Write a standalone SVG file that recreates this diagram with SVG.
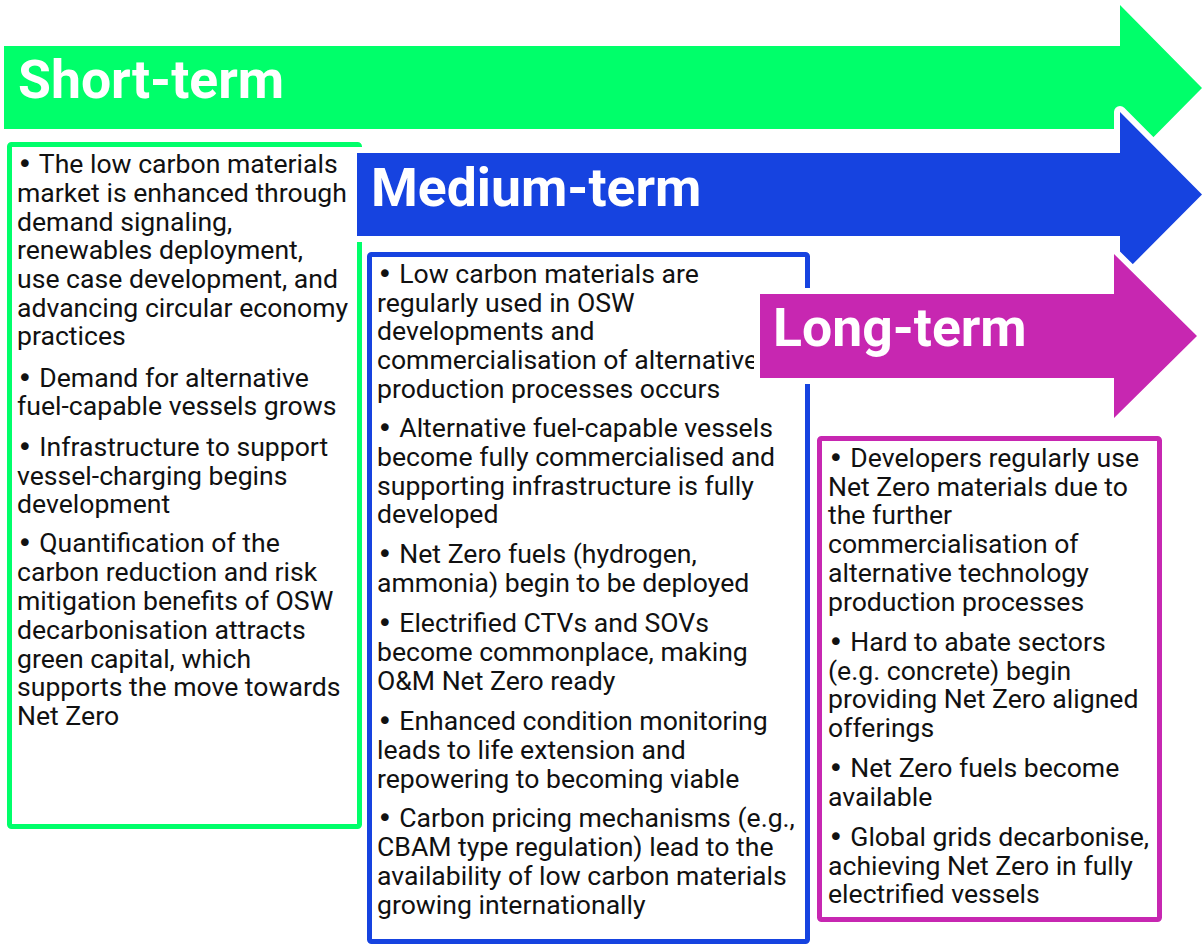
<svg xmlns="http://www.w3.org/2000/svg" width="1203" height="944" viewBox="0 0 1203 944">
  <style>
    .label { font-family: Roboto, "Liberation Sans", sans-serif; font-weight: bold; font-size: 53.5px; fill: #ffffff; }
    .body { font-family: Roboto, "Liberation Sans", sans-serif; font-size: 26.6px; fill: #111111; }
    .dot { font-family: "DejaVu Sans", sans-serif; }
    .arrow { stroke: #ffffff; stroke-width: 12; stroke-linejoin: round; paint-order: stroke; }
    .box { fill: #ffffff; stroke-width: 5; }
    .green { fill: #00ff6a; }
    .blue { fill: #1643e0; }
    .pink { fill: #c727b1; }
  </style>
  <rect width="1203" height="944" fill="#ffffff"/>

  <!-- short-term column -->
  <g id="short-term-box">
    <rect class="box" x="9.5" y="144.5" width="350" height="682" rx="2" stroke="#00ff6a"/>
    <text class="body">
      <tspan x="17" y="173"><tspan class="dot">•</tspan> The low carbon materials</tspan>
      <tspan x="17" y="202">market is enhanced through</tspan>
      <tspan x="17" y="231">demand signaling,</tspan>
      <tspan x="17" y="259">renewables deployment,</tspan>
      <tspan x="17" y="288">use case development, and</tspan>
      <tspan x="17" y="317">advancing circular economy</tspan>
      <tspan x="17" y="345">practices</tspan>
      <tspan x="17" y="387"><tspan class="dot">•</tspan> Demand for alternative</tspan>
      <tspan x="17" y="415">fuel-capable vessels grows</tspan>
      <tspan x="17" y="456"><tspan class="dot">•</tspan> Infrastructure to support</tspan>
      <tspan x="17" y="485">vessel-charging begins</tspan>
      <tspan x="17" y="513">development</tspan>
      <tspan x="17" y="552"><tspan class="dot">•</tspan> Quantification of the</tspan>
      <tspan x="17" y="581">carbon reduction and risk</tspan>
      <tspan x="17" y="610">mitigation benefits of OSW</tspan>
      <tspan x="17" y="639">decarbonisation attracts</tspan>
      <tspan x="17" y="668">green capital, which</tspan>
      <tspan x="17" y="696">supports the move towards</tspan>
      <tspan x="17" y="725">Net Zero</tspan>
    </text>
  </g>
  <g id="short-term-arrow">
    <path class="arrow green" d="M4,46 H1120 V5 L1202,88 L1120,171 V129 H4 Z"/>
    <text class="label" x="18" y="98">Short-term</text>
  </g>

  <!-- medium-term column -->
  <g id="medium-term-arrow">
    <path class="arrow blue" d="M357,153 H1120 V112 L1202,194.5 L1120,277 V236 H357 Z"/>
    <text class="label" x="371" y="206">Medium-term</text>
  </g>
  <g id="medium-term-box">
    <rect class="box" x="369.5" y="254.5" width="438" height="687" rx="2" stroke="#1643e0"/>
    <text class="body">
      <tspan x="377" y="283"><tspan class="dot">•</tspan> Low carbon materials are</tspan>
      <tspan x="377" y="312">regularly used in OSW</tspan>
      <tspan x="377" y="340">developments and</tspan>
      <tspan x="377" y="369">commercialisation of alternative</tspan>
      <tspan x="377" y="398">production processes occurs</tspan>
      <tspan x="377" y="437"><tspan class="dot">•</tspan> Alternative fuel-capable vessels</tspan>
      <tspan x="377" y="466">become fully commercialised and</tspan>
      <tspan x="377" y="495">supporting infrastructure is fully</tspan>
      <tspan x="377" y="523">developed</tspan>
      <tspan x="377" y="563"><tspan class="dot">•</tspan> Net Zero fuels (hydrogen,</tspan>
      <tspan x="377" y="592">ammonia) begin to be deployed</tspan>
      <tspan x="377" y="632"><tspan class="dot">•</tspan> Electrified CTVs and SOVs</tspan>
      <tspan x="377" y="661">become commonplace, making</tspan>
      <tspan x="377" y="690">O&amp;M Net Zero ready</tspan>
      <tspan x="377" y="730"><tspan class="dot">•</tspan> Enhanced condition monitoring</tspan>
      <tspan x="377" y="759">leads to life extension and</tspan>
      <tspan x="377" y="788">repowering to becoming viable</tspan>
      <tspan x="377" y="827"><tspan class="dot">•</tspan> Carbon pricing mechanisms (e.g.,</tspan>
      <tspan x="377" y="856">CBAM type regulation) lead to the</tspan>
      <tspan x="377" y="885">availability of low carbon materials</tspan>
      <tspan x="377" y="914">growing internationally</tspan>
    </text>
  </g>

  <!-- long-term column -->
  <g id="long-term-arrow">
    <path class="arrow pink" d="M760,294 H1114 V254 L1197,336 L1114,418 V378 H760 Z"/>
    <text class="label" x="773" y="346">Long-term</text>
  </g>
  <g id="long-term-box">
    <rect class="box" x="819.5" y="438.5" width="340" height="481" rx="2" stroke="#c727b1"/>
    <text class="body">
      <tspan x="828" y="467"><tspan class="dot">•</tspan> Developers regularly use</tspan>
      <tspan x="828" y="496">Net Zero materials due to</tspan>
      <tspan x="828" y="524">the further</tspan>
      <tspan x="828" y="553">commercialisation of</tspan>
      <tspan x="828" y="582">alternative technology</tspan>
      <tspan x="828" y="611">production processes</tspan>
      <tspan x="828" y="651"><tspan class="dot">•</tspan> Hard to abate sectors</tspan>
      <tspan x="828" y="680">(e.g. concrete) begin</tspan>
      <tspan x="828" y="708">providing Net Zero aligned</tspan>
      <tspan x="828" y="737">offerings</tspan>
      <tspan x="828" y="777"><tspan class="dot">•</tspan> Net Zero fuels become</tspan>
      <tspan x="828" y="806">available</tspan>
      <tspan x="828" y="846"><tspan class="dot">•</tspan> Global grids decarbonise,</tspan>
      <tspan x="828" y="875">achieving Net Zero in fully</tspan>
      <tspan x="828" y="903">electrified vessels</tspan>
    </text>
  </g>
</svg>
